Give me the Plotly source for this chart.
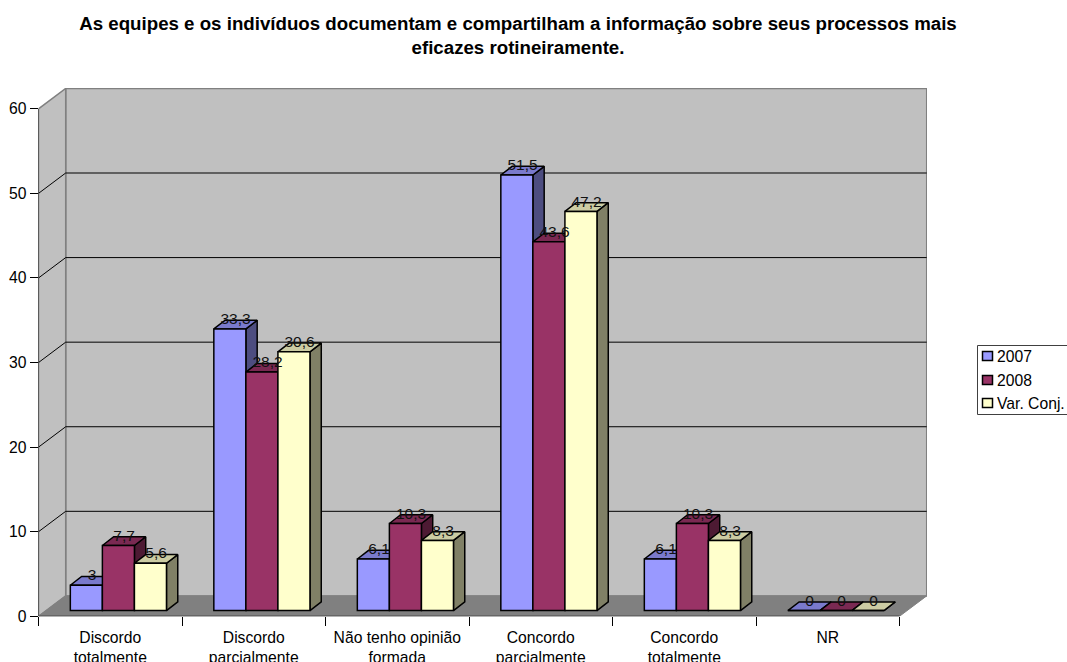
import plotly.graph_objects as go

categories = ["Discordo<br>totalmente", "Discordo<br>parcialmente", "Não tenho opinião<br>formada",
              "Concordo<br>parcialmente", "Concordo<br>totalmente", "NR"]
v2007 = [3, 33.3, 6.1, 51.5, 6.1, 0]
v2008 = [7.7, 28.2, 10.3, 43.6, 10.3, 0]
vconj = [5.6, 30.6, 8.3, 47.2, 8.3, 0]
series_names = ["2007", "2008", "Var. Conj."]
series_values = [v2007, v2008, vconj]
front_colors = ["#9999FF", "#993366", "#FFFFCC"]
top_colors = ["#7A7ACC", "#7A2952", "#CCCCA3"]
side_colors = ["#4D4D80", "#4D1A33", "#808066"]
y_ticks = [0, 10, 20, 30, 40, 50, 60]
title = ("<b>As equipes e os indivíduos documentam e compartilham a informação sobre seus processos mais"
         "<br>eficazes rotineiramente.</b>")

W, H = 1067, 662
PX_LEFT, PX_RIGHT, PX_TOP, PX_ZERO = 38.5, 927.0, 88.0, 616.3
PX_CAT = 143.5
PX_UNIT = 8.458
n = len(categories)

# projection offsets, px -> axis units
wall_dx, wall_dy = 27.2 / PX_CAT, 20.4 / PX_UNIT
bar_dx, bar_dy = 11.3 / PX_CAT, 8.7 / PX_UNIT
shift_x, shift_y = 8.15 / PX_CAT, 5.7 / PX_UNIT
bar_w = 0.67 / 3

x_max = (PX_RIGHT - PX_LEFT) / PX_CAT
y_max = (PX_ZERO - PX_TOP) / PX_UNIT
FONT = "Liberation Sans, Arial, sans-serif"
SIZE = 15.7

fig = go.Figure()


def poly(xs, ys, fill, line, width=1.0):
    fig.add_trace(go.Scatter(x=xs, y=ys, mode="lines", fill="toself", fillcolor=fill,
                             line=dict(color=line, width=width), hoverinfo="skip",
                             showlegend=False, xaxis="x", yaxis="y"))


def line(xs, ys, color="#000000", width=1.0):
    fig.add_trace(go.Scatter(x=xs, y=ys, mode="lines", line=dict(color=color, width=width),
                             hoverinfo="skip", showlegend=False, cliponaxis=False, xaxis="x", yaxis="y"))


# walls and floor
top = y_ticks[-1]
poly([wall_dx, n + wall_dx, n + wall_dx, wall_dx, wall_dx],
     [wall_dy, wall_dy, top + wall_dy, top + wall_dy, wall_dy], "#C0C0C0", "#808080", 1.5)
poly([0, wall_dx, wall_dx, 0, 0], [0, wall_dy, top + wall_dy, top, 0], "#C0C0C0", "#808080", 1.5)
poly([0, n, n + wall_dx, wall_dx, 0], [0, 0, wall_dy, wall_dy, 0], "#808080", "#808080", 1.0)

# gridlines
for t in y_ticks[1:-1]:
    line([0, wall_dx, n + wall_dx], [t, t + wall_dy, t + wall_dy])

# front axes
line([0, 0], [0, top])
line([0, n], [0, 0])

# side and top faces, painted left to right
for i in range(n):
    for k, vals in enumerate(series_values):
        v = vals[i]
        l = i + 0.5 + (k - 1.5) * bar_w + shift_x
        r = l + bar_w
        b = shift_y
        poly([r, r + bar_dx, r + bar_dx, r, r],
             [b, b + bar_dy, b + v + bar_dy, b + v, b], side_colors[k], "#000000", 1.5)
        poly([l, r, r + bar_dx, l + bar_dx, l],
             [b + v, b + v, b + v + bar_dy, b + v + bar_dy, b + v], top_colors[k], "#000000", 1.5)

# front faces on the overlay axes
centres = [i + 0.5 for i in range(n)]
for k, vals in enumerate(series_values):
    fig.add_trace(go.Bar(x=centres, y=vals, name=series_names[k], xaxis="x2", yaxis="y2",
                         marker=dict(color=front_colors[k], line=dict(color="#000000", width=1.5)),
                         hoverinfo="x+y", showlegend=False))

# value labels
for k, vals in enumerate(series_values):
    xs = [i + 0.5 + (k - 1) * bar_w + bar_dx / 2 for i in range(n)]
    ys = [v + bar_dy for v in vals]
    fig.add_trace(go.Scatter(x=xs, y=ys, mode="text", xaxis="x2", yaxis="y2",
                             text=[str(v).replace(".", ",") for v in vals], textposition="middle center",
                             textfont=dict(family=FONT, size=15.5, color="#111111"),
                             hoverinfo="skip", showlegend=False, cliponaxis=False))

dom_x = [PX_LEFT / W, PX_RIGHT / W]
dom_y = [(H - PX_ZERO) / H, (H - PX_TOP) / H]

# custom legend
shapes = [dict(type="rect", xref="paper", yref="paper", x0=977.5 / W, x1=1075 / W,
               y0=1 - 414.5 / H, y1=1 - 345.5 / H, line=dict(color="#404040", width=1), fillcolor="#FFFFFF")]
annotations = []
for k, (nm, yy) in enumerate(zip(series_names, [356, 380, 403])):
    shapes.append(dict(type="rect", xref="paper", yref="paper", x0=982.5 / W, x1=992.5 / W,
                       y0=1 - (yy + 4.5) / H, y1=1 - (yy - 4.5) / H,
                       line=dict(color="#000000", width=1.5), fillcolor=front_colors[k]))
    annotations.append(dict(text=nm, xref="paper", yref="paper", x=995.5 / W, y=1 - yy / H, xanchor="left",
                            yanchor="middle", showarrow=False, borderpad=0,
                            font=dict(family=FONT, size=SIZE, color="#000000")))

fig.update_layout(
    width=W, height=H, autosize=False,
    margin=dict(l=0, r=0, t=0, b=0, pad=0),
    paper_bgcolor="#FFFFFF", plot_bgcolor="rgba(0,0,0,0)",
    font=dict(family=FONT, size=SIZE, color="#000000"),
    showlegend=False, barmode="group", bargap=0.33, bargroupgap=0,
    title=dict(text=title, x=518 / W, xanchor="center", xref="paper", yref="container",
               y=1 - 30 / H, yanchor="top", automargin=False,
               font=dict(family=FONT, size=18.7, color="#000000")),
    xaxis=dict(domain=dom_x, range=[0, x_max], tickvals=centres, ticktext=categories, ticks="",
               showgrid=False, zeroline=False, showline=False, ticklabelstandoff=10, automargin=False,
               tickfont=dict(family=FONT, size=SIZE, color="#000000"),
               minor=dict(tickvals=list(range(n + 1)), ticks="outside", ticklen=9, tickcolor="#000000",
                          tickwidth=1, showgrid=False)),
    yaxis=dict(domain=dom_y, range=[0, y_max], tickvals=y_ticks, ticks="outside", ticklen=8,
               tickcolor="#000000", tickwidth=1, showgrid=False, zeroline=False, showline=False,
               automargin=False, tickfont=dict(family=FONT, size=SIZE, color="#000000")),
    xaxis2=dict(domain=dom_x, overlaying="x", visible=False,
                range=[-shift_x, x_max - shift_x], anchor="y2"),
    yaxis2=dict(domain=dom_y, overlaying="y", visible=False,
                range=[-shift_y, y_max - shift_y], anchor="x2"),
    shapes=shapes, annotations=annotations,
)

fig.write_html("out.html", config=dict(displayModeBar=False, responsive=False),
               post_script="document.body.style.margin='0';")
